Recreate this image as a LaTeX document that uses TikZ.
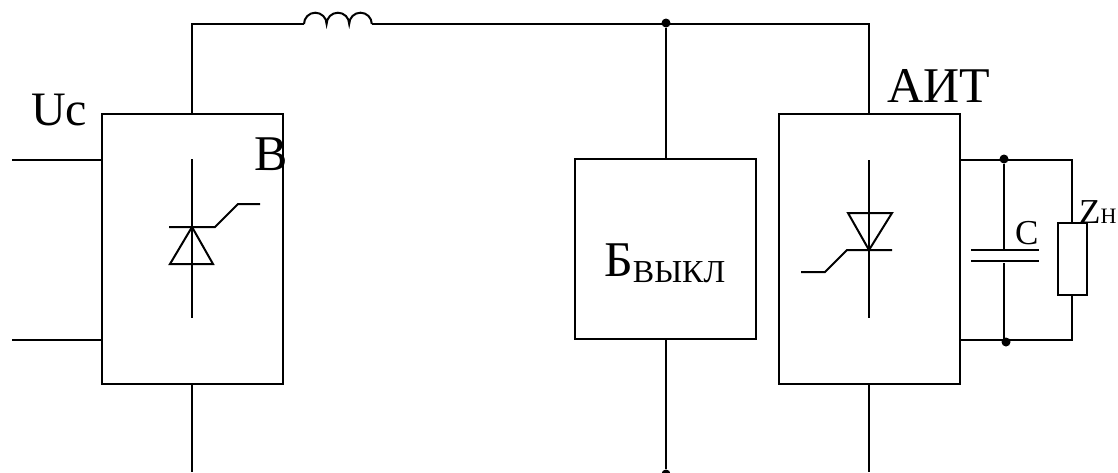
\documentclass[tikz,border=0pt]{standalone}
\usepackage{fontspec}
\setmainfont{Liberation Serif}
\newcommand{\fsz}[1]{\fontsize{#1}{#1}\selectfont}
\tikzset{
  wire/.style={line width=2pt,black,line cap=butt,line join=miter},
  blockbox/.style={draw,black,line width=2pt,rectangle,inner sep=0pt,outer sep=0pt},
  junction/.style={circle,fill=black,inner sep=0pt,minimum size=9pt},
  lab/.style={inner sep=0pt,anchor=base west,black},
  bigt/.style={lab,font=\fsz{50}},
  midt/.style={lab,font=\fsz{35}},
}
\begin{document}
\begin{tikzpicture}[x=1pt,y=-1pt]
\useasboundingbox (0,0) rectangle (1118,472);
% blocks
\node[blockbox,minimum width=181pt,minimum height=270pt] (B) at (192.5,249) {};
\node[blockbox,minimum width=181pt,minimum height=180pt] (K) at (665.5,249) {};
\node[blockbox,minimum width=181pt,minimum height=270pt] (A) at (869.5,249) {};
\node[blockbox,minimum width=29pt,minimum height=72pt] (Z) at (1072,259) {};
% nets
\coordinate (tl) at (192,24);
\coordinate (il) at (304,24);
\coordinate (ir) at (372,24);
\coordinate (tr) at (869,24);
\node[junction] (jt) at (666,23) {};
\node[junction] (jb) at (666,474) {};
\coordinate (bl) at (192,472);
\coordinate (br) at (869,472);
\coordinate (i1) at (12,160);
\coordinate (i2) at (12,340);
\coordinate (o1) at (960,160);
\coordinate (o2) at (960,340);
\coordinate (zt) at (1072,160);
\coordinate (zb) at (1072,340);
\node[junction] (j1) at (1004,159) {};
\node[junction] (j2) at (1006,342) {};
% main wires
\draw[wire] (B.north -| tl) -- (tl) -- (il);
\draw[wire] (il) arc[start angle=180,end angle=0,radius=11.3pt] arc[start angle=180,end angle=0,radius=11.3pt] arc[start angle=180,end angle=0,radius=11.3pt];
\draw[wire] (ir) -- (tr) -- (A.north -| tr);
\draw[wire] (jt) -- (K.north -| jt);
\draw[wire] (K.south -| jb) -- (jb);
\draw[wire] (B.south -| bl) -- (bl);
\draw[wire] (A.south -| br) -- (br);
\draw[wire] (i1) -- (i1 -| B.west);
\draw[wire] (i2) -- (i2 -| B.west);
\draw[wire] (o1) -- (zt) -- (Z.north -| zt);
\draw[wire] (o2) -- (zb) -- (Z.south -| zb);
% capacitor
\coordinate (c1) at (1004,250);
\coordinate (c2) at (1004,263);
\draw[wire] (j1) -- (c1);
\draw[wire] (c2) -- (1004,340);
\draw[wire] (971,250) -- (1039,250);
\draw[wire] (971,261) -- (1039,261);
% thyristor in rectifier
\draw[wire] (192,159) -- (192,318);
\draw[wire] (169,227) -- (215,227) -- (238,204) -- (260,204);
\draw[wire] (192,227) -- (213,264) -- (170,264) -- cycle;
% thyristor in inverter
\draw[wire] (869,160) -- (869,318);
\draw[wire] (892,250) -- (847,250) -- (825,272) -- (801,272);
\draw[wire] (869,250) -- (848,213) -- (892,213) -- cycle;
% labels
\node[lab,font=\fsz{48}] (t1) at (31,125) {Uc};
\node[bigt] (t2) at (254,170) {В};
\node[bigt] (t3) at (887,102) {АИТ};
\node[lab] (t4) at (604,276) {\fsz{50}Б\raisebox{-6pt}{\fsz{32}ВЫКЛ}};
\node[midt] (t5) at (1015,244) {С};
\node[lab] (t6) at (1079,223) {\fsz{35}Z\fsz{22}Н};
\end{tikzpicture}
\end{document}
